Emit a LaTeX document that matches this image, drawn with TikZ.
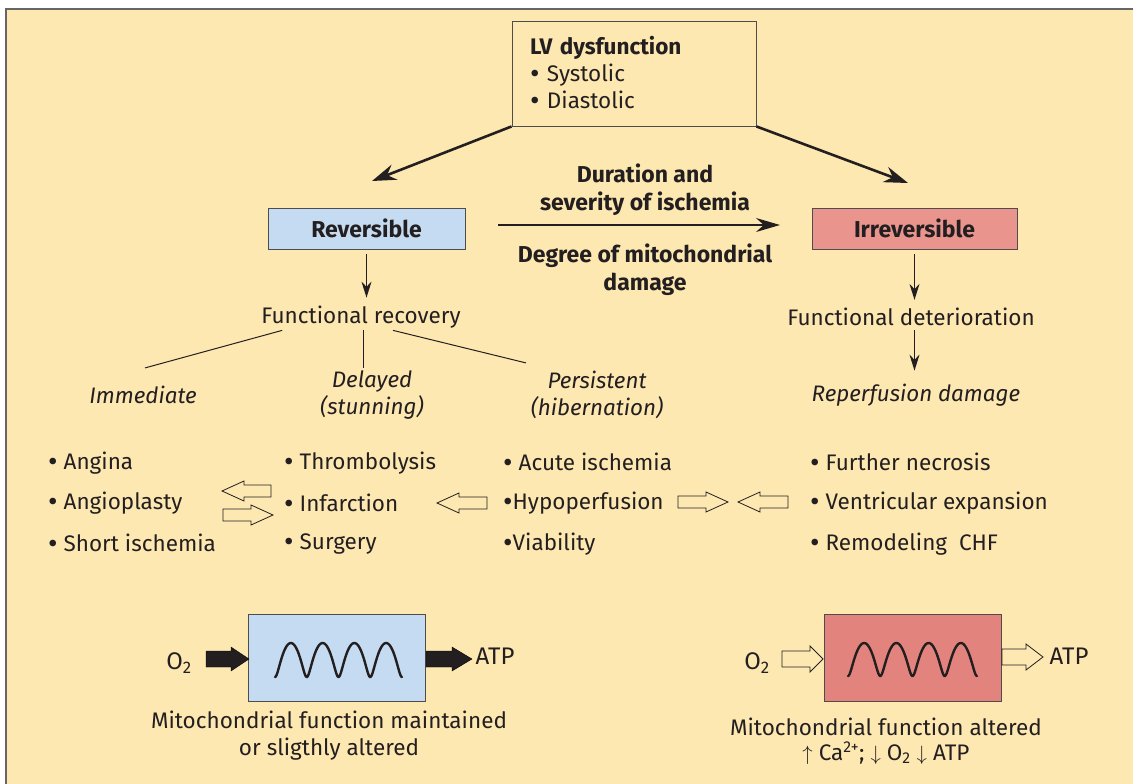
\documentclass[tikz,border=0pt]{standalone}
\usepackage{fontspec}
\setmainfont{Fira Sans}
\usetikzlibrary{arrows.meta}

% block arrow: [style]{tail x}{tip x}{y}{shaft half}{head half}{head length}
\newcommand{\blockarrow}[7][draw]{%
    \pgfmathsetmacro{\bdir}{(#3>#2)?1:-1}
    \pgfmathsetmacro{\bbase}{#3-\bdir*#7}
    \draw[#1] (#2,#4-#5) -- (\bbase,#4-#5) -- (\bbase,#4-#6) -- (#3,#4)
        -- (\bbase,#4+#6) -- (\bbase,#4+#5) -- (#2,#4+#5) -- cycle;}
\newcommand{\bul}{\raisebox{-0.08em}{\scalebox{1.3}{•}}}

\begin{document}
\begin{tikzpicture}[x=1pt,y=-1pt,
    txt/.style={font=\fontsize{22.5}{26}\selectfont, inner sep=0pt, text=ink},
    bold/.style={font=\fontsize{23}{28}\selectfont\bfseries},
    ital/.style={font=\fontsize{22.4}{27}\selectfont\itshape},
    chem/.style={font=\fontsize{24}{28}\selectfont},
    box/.style={draw=ink!80, line width=0.9pt, txt},
    bigarrow/.style={draw=ink, line width=2.6pt, -{Stealth[length=24pt,width=16pt]}},
    midarrow/.style={draw=ink, line width=1.4pt, -{Stealth[length=24pt,width=14pt]}},
    downarrow/.style={draw=ink, line width=1.3pt, -{Stealth[length=16pt,width=10pt]}},
    hollow/.style={draw=ink, fill=cream, line width=0.8pt},
    wave/.style={draw=ink, line width=2.4pt, line cap=round}]
    \definecolor{cream}{HTML}{FEE8B2}
    \definecolor{ink}{HTML}{231F20}
    \definecolor{revblue}{HTML}{C5DBF1}
    \definecolor{irrred}{HTML}{E9958E}
    \definecolor{mitored}{HTML}{E2847D}

    \useasboundingbox (0,0) rectangle (1133,784);
    \fill[white] (0,0) rectangle (1133,784);
    \fill[cream] (6,9) rectangle (1133,784);
    \draw[gray!80!black, line width=1.8pt] (6,784) -- (6,9) -- (1133,9);

    \node[box, minimum width=244pt, minimum height=105pt, text width=208pt,
          align=left, font=\fontsize{22.5}{27}\selectfont] (lv) at (634,73.5)
        {{\bfseries LV dysfunction}\\ \bul\ Systolic\\ \bul\ Diastolic};

    \node[box, bold, fill=revblue, minimum width=197pt, minimum height=41pt] (rev)
        at (366.5,228.5) {Reversible};
    \node[box, bold, fill=irrred, minimum width=205pt, minimum height=41pt] (irr)
        at (914.5,228.5) {Irreversible};

    \coordinate (revtip) at (372,181);
    \coordinate (irrtip) at (908,183);
    \draw[bigarrow] (lv.south west) -- (revtip);
    \draw[bigarrow] (lv.south east) -- (irrtip);

    \coordinate (durL) at (498,225);
    \coordinate (durR) at (780,225);
    \draw[midarrow] (durL) -- (durR);
    \node[txt, bold, align=center] (dur) at (645,190) {Duration and\\severity of ischemia};
    \node[txt, bold, align=center] (deg) at (645,270) {Degree of mitochondrial\\damage};

    \node[txt] (fr) at (361,317) {Functional recovery};
    \node[txt] (fd) at (911,317) {Functional deterioration};
    \draw[downarrow] ([yshift=-5pt]rev.south) -- ([yshift=8pt]rev.south |- fr.north);
    \draw[downarrow] ([yshift=-5pt]irr.south) -- ([yshift=8pt]irr.south |- fd.north);

    \node[txt, ital] (imm) at (143,395) {Immediate};
    \node[txt, ital, align=center] (del) at (372,395) {Delayed\\(stunning)};
    \node[txt, ital, align=center] (per) at (597,395) {Persistent\\(hibernation)};
    \node[txt, ital] (rep) at (916,395) {Reperfusion damage};

    \draw[ink, line width=1pt] ([xshift=21pt,yshift=-2pt]fr.south west) -- ([xshift=2pt,yshift=18pt]imm.north);
    \draw[ink, line width=1pt] ([xshift=2pt,yshift=-2pt]fr.south) -- ([xshift=-9pt,yshift=2pt]del.north);
    \draw[ink, line width=1pt] ([xshift=32pt,yshift=-2pt]fr.south) -- ([xshift=-71pt,yshift=8pt]per.north);
    \draw[downarrow] ([yshift=-4pt]irr.south |- fd.south) -- ([yshift=13pt]irr.south |- rep.north);

    \foreach \item [count=\i] in {Angina, Angioplasty, Short ischemia}
        \node[txt, anchor=west] (a\i) at (48,422.5+40.5*\i) {\bul\ \item};
    \foreach \item [count=\i] in {Thrombolysis, Infarction, Surgery}
        \node[txt, anchor=west] (b\i) at (284,422.5+40.5*\i) {\bul\ \item};
    \foreach \item [count=\i] in {{\ Acute ischemia}, Hypoperfusion, Viability}
        \node[txt, anchor=west] (c\i) at (503,422.5+40.5*\i) {\bul\item};
    \foreach \item [count=\i] in {Further necrosis, Ventricular expansion, Remodeling\ \ CHF}
        \node[txt, anchor=west] (d\i) at (810,422.5+40.5*\i) {\bul\ \item};

    \blockarrow[hollow]{271}{222}{491}{6}{10}{22}
    \blockarrow[hollow]{223}{273}{515}{6}{10}{22}
    \blockarrow[hollow]{487}{437}{503}{6}{10}{22}
    \blockarrow[hollow]{678}{728}{502}{6}{10}{22}
    \blockarrow[hollow]{788}{738}{502}{6}{10}{22}

    \node[box, fill=revblue, minimum width=177pt, minimum height=87pt] (mitoA) at (336.5,657.5) {};
    \node[box, fill=mitored, minimum width=177pt, minimum height=87pt] (mitoB) at (913,658) {};
    \draw[wave] plot[domain=0:1440, samples=160]
        ({275+127*(\x/1440-0.38*sin(\x)/(8*pi))},{660+17*cos(\x)});
    \draw[wave] plot[domain=0:1440, samples=160]
        ({848+129*(\x/1440-0.38*sin(\x)/(8*pi))},{659.5+16.5*cos(\x)});

    \node[txt, chem] (o2a) at (179,663) {O\textsubscript{2}};
    \node[txt, chem] (atpa) at (495,656) {ATP};
    \blockarrow[fill=ink]{206}{249}{659}{8}{12}{18}
    \blockarrow[fill=ink]{426}{472}{659}{8}{12}{20}

    \node[txt, chem] (o2b) at (757,663) {O\textsubscript{2}};
    \node[txt, chem] (atpb) at (1069,656) {ATP};
    \blockarrow[hollow]{782}{823}{659}{8}{13}{13}
    \blockarrow[hollow]{1002}{1043}{657}{8}{13}{17}

    \node[txt, align=center, font=\fontsize{22.5}{27}\selectfont] (capa) at (329,736)
        {Mitochondrial function maintained\\or sligthly altered};
    \node[txt, align=center, font=\fontsize{22.5}{25}\selectfont] (capb) at (886,741)
        {Mitochondrial function altered\\$\uparrow$ Ca\textsuperscript{2+}; $\downarrow$ O\textsubscript{2} $\downarrow$ ATP};
\end{tikzpicture}
\end{document}
